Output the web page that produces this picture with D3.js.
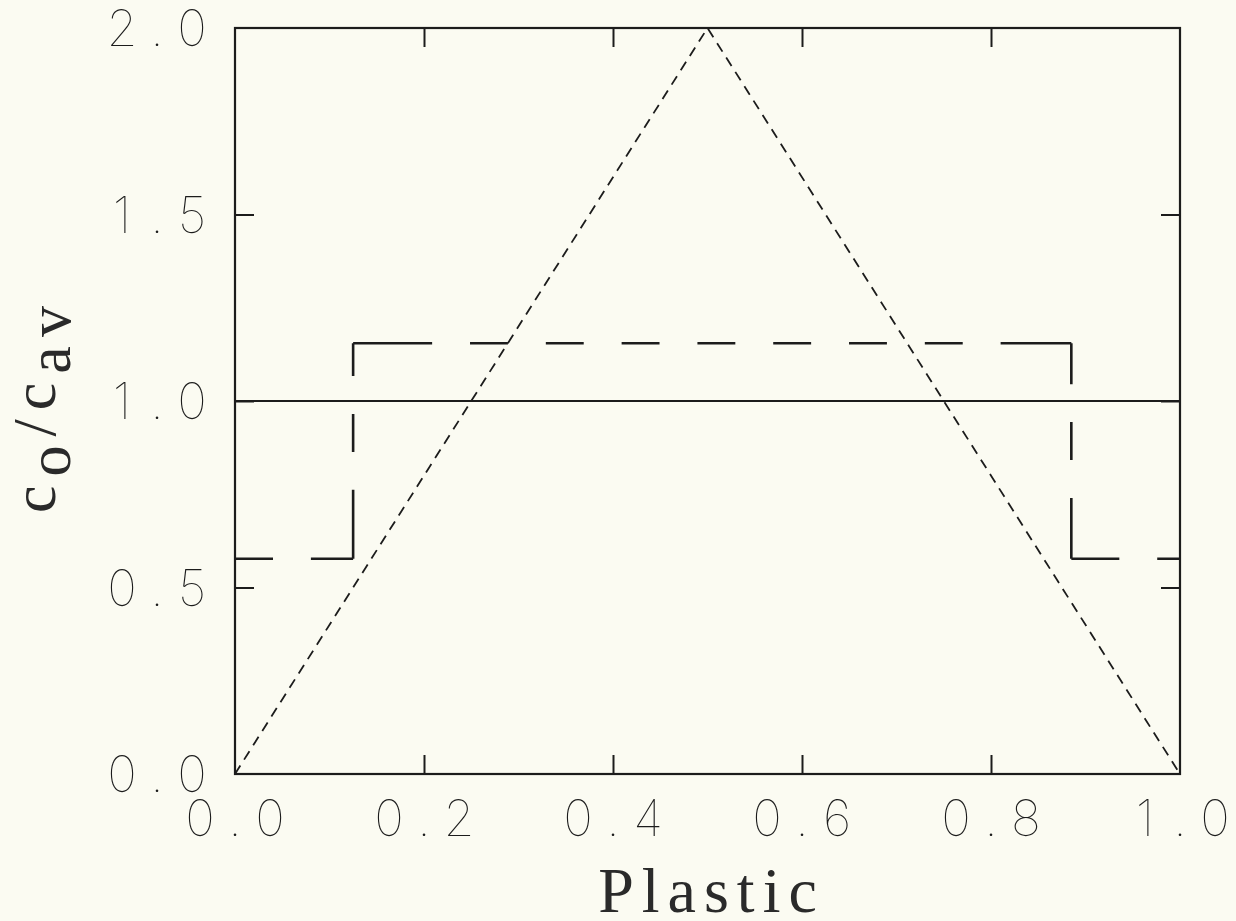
<!DOCTYPE html>
<html>
<head>
<meta charset="utf-8">
<script src="https://cdn.jsdelivr.net/npm/d3@7"></script>
<style>
  html, body { margin: 0; padding: 0; background: #fbfbf2; }
  svg { display: block; }
</style>
</head>
<body>
<svg id="chart" width="1236" height="921"></svg>
<script>
// Plastic fraction along the specimen
const plasticX = [0, 0.125, 0.125, 0.885, 0.885, 1.0];
// Stepped concentration profile (long dashes)
const stepRatio = [0.577, 0.577, 1.155, 1.155, 0.577, 0.577];
// Triangular concentration profile (short dashes)
const triX = [0, 0.5, 1.0];
const triRatio = [0, 2.0, 0];
// Uniform reference level (solid)
const flatX = [0, 1.0];
const flatRatio = [1.0, 1.0];

const xTicks = [0, 0.2, 0.4, 0.6, 0.8, 1.0];
const xTickLabels = ["0.0", "0.2", "0.4", "0.6", "0.8", "1.0"];
const yTicks = [0, 0.5, 1.0, 1.5, 2.0];
const yTickLabels = ["0.0", "0.5", "1.0", "1.5", "2.0"];

const W = 1236, H = 921;
const plotLeft = 235, plotRight = 1180, plotTop = 28, plotBottom = 774;
const ink = "#1c1c1c";

const svg = d3.select("#chart");
svg.append("rect").attr("width", W).attr("height", H).attr("fill", "#fbfbf2");

const x = d3.scaleLinear().domain([0, 1]).range([plotLeft, plotRight]);
const y = d3.scaleLinear().domain([0, 2]).range([plotBottom, plotTop]);

// Frame
svg.append("rect")
  .attr("x", x(0)).attr("y", y(2))
  .attr("width", x(1) - x(0)).attr("height", y(0) - y(2))
  .attr("fill", "none").attr("stroke", ink).attr("stroke-width", 2.2);

// Inward ticks on all four sides
const tickLen = 19;
function styleAxis(g) {
  g.select(".domain").remove();
  g.selectAll(".tick line").attr("stroke", ink).attr("stroke-width", 2);
  g.selectAll("text").remove();
}
svg.append("g").attr("transform", `translate(0,${y(0)})`)
  .call(d3.axisBottom(x).tickValues(xTicks.slice(1, -1)).tickSize(-tickLen)).call(styleAxis);
svg.append("g").attr("transform", `translate(0,${y(2)})`)
  .call(d3.axisTop(x).tickValues(xTicks.slice(1, -1)).tickSize(-tickLen)).call(styleAxis);
svg.append("g").attr("transform", `translate(${x(0)},0)`)
  .call(d3.axisLeft(y).tickValues(yTicks.slice(1, -1)).tickSize(-tickLen)).call(styleAxis);
svg.append("g").attr("transform", `translate(${x(1)},0)`)
  .call(d3.axisRight(y).tickValues(yTicks.slice(1, -1)).tickSize(-tickLen)).call(styleAxis);

// Tick labels, one glyph per fixed pitch like a pen-plotter font
const pitch = 35;
function pitchedLabel(g, str, cx, baseline) {
  const t = g.append("text")
    .attr("y", baseline)
    .attr("font-family", "Inter, 'DejaVu Sans', sans-serif")
    .attr("font-weight", 100)
    .attr("font-size", 50)
    .attr("fill", ink)
    .attr("text-anchor", "middle");
  const chars = str.split("");
  const n = chars.length;
  chars.forEach((c, i) => {
    t.append("tspan").attr("x", cx + (i - (n - 1) / 2) * pitch).text(c);
  });
}
const labels = svg.append("g");
xTicks.forEach((v, i) => pitchedLabel(labels, xTickLabels[i], x(v), y(0) + 62));
yTicks.forEach((v, i) => pitchedLabel(labels, yTickLabels[i], 157, y(v) + 18));

// Solid reference line at c0/cav = 1
const line = d3.line().x(d => x(d[0])).y(d => y(d[1]));
svg.append("path")
  .attr("d", line(d3.zip(flatX, flatRatio)))
  .attr("fill", "none").attr("stroke", ink).attr("stroke-width", 2.2);

// Triangular profile, short dashes
svg.append("path")
  .attr("d", line(d3.zip(triX, triRatio)))
  .attr("fill", "none").attr("stroke", ink).attr("stroke-width", 1.8)
  .attr("stroke-dasharray", "10,7");

// Stepped profile: each leg restarts its dash pattern (plotter style)
const stepPts = d3.zip(plasticX, stepRatio);
const leadDash = [38, 69, 79, 41, 48];
const dash = 37.9, gap = 37.9;
for (let i = 0; i < stepPts.length - 1; i++) {
  const a = stepPts[i], b = stepPts[i + 1];
  const L = Math.hypot(x(b[0]) - x(a[0]), y(b[1]) - y(a[1]));
  const lead = leadDash[i];
  const pairs = Math.max(0, Math.floor((L - lead - gap - 20) / (dash + gap)));
  const arr = [lead];
  for (let k = 0; k < pairs; k++) arr.push(gap, dash);
  const rest = L - lead - pairs * (dash + gap) - gap;
  arr.push(gap, Math.max(rest, 0) + 2, 1000);
  svg.append("path")
    .attr("d", line([a, b]))
    .attr("fill", "none").attr("stroke", ink).attr("stroke-width", 2.6)
    .attr("stroke-dasharray", arr.join(","));
}

// Axis titles
svg.append("text")
  .attr("x", x(0.5) + 4).attr("y", 912)
  .attr("text-anchor", "middle")
  .attr("font-family", "'Liberation Serif', 'DejaVu Serif', serif")
  .attr("font-size", 64).attr("letter-spacing", 8)
  .attr("fill", "#2a2a2a")
  .text("Plastic");

const yTitle = svg.append("text")
  .attr("transform", `translate(55,${(y(0) + y(2)) / 2 + 4}) rotate(-90)`)
  .attr("text-anchor", "middle")
  .attr("font-family", "'Liberation Serif', 'DejaVu Serif', serif")
  .attr("font-size", 62).attr("letter-spacing", 9)
  .attr("fill", "#2a2a2a");
yTitle.append("tspan").text("c");
yTitle.append("tspan").attr("dy", 15).text("o");
yTitle.append("tspan").attr("dy", -15).text("/c");
yTitle.append("tspan").attr("dy", 15).text("av");
</script>
</body>
</html>
